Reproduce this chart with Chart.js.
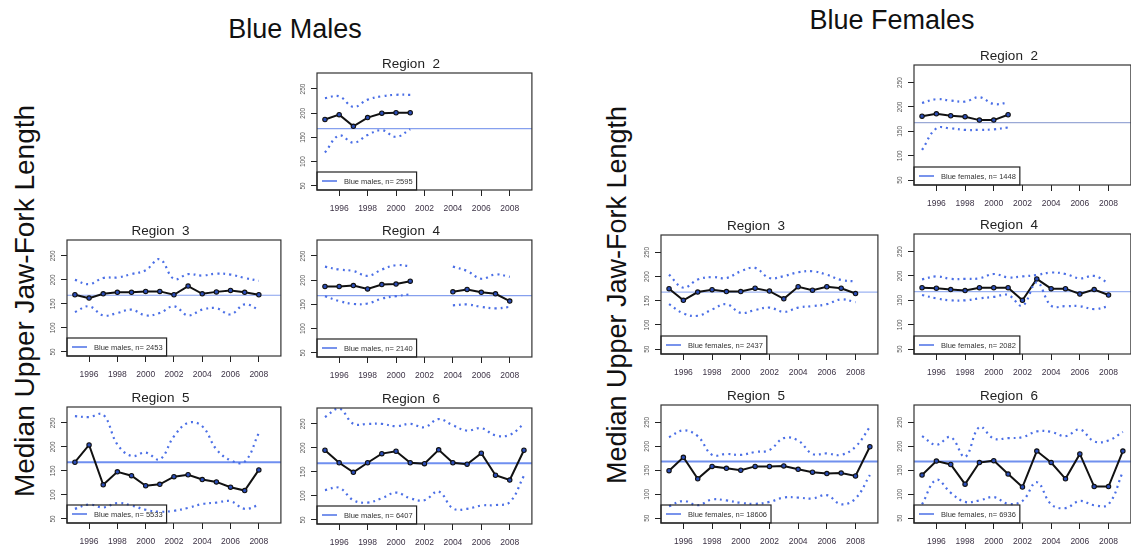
<!DOCTYPE html>
<html>
<head>
<meta charset="utf-8">
<title>Blue Males / Blue Females</title>
<script src="https://cdn.jsdelivr.net/npm/chart.js@4.4.1/dist/chart.umd.min.js"></script>
<style>
  body { margin: 0; background: #fff; width: 1131px; height: 545px; overflow: hidden; position: relative;
         font-family: "Liberation Sans", Arial, sans-serif; }
  .big { position: absolute; font-size: 27px; line-height: 1; color: #111; white-space: nowrap; transform: translateX(-50%); }
  .ylab { position: absolute; white-space: nowrap; line-height: 1; color: #111; transform: translate(-50%, -50%) rotate(-90deg); }
  .panel { position: absolute; }
</style>
</head>
<body>
<div class="big" style="left:295px; top:16px;">Blue Males</div>
<div class="big" style="left:892px; top:7px;">Blue Females</div>
<div class="ylab" style="left:25px; top:301px; font-size:28px;">Median Upper Jaw-Fork Length</div>
<div class="ylab" style="left:617px; top:295px; font-size:27px;">Median Upper Jaw-Fork Length</div>

<script>
// years on the x axis, one value per year from 1995
const years = [1995, 1996, 1997, 1998, 1999, 2000, 2001, 2002, 2003, 2004, 2005, 2006, 2007, 2008, 2009];
const xTicks = [1996, 1998, 2000, 2002, 2004, 2006, 2008];
const yTicks = [50, 100, 150, 200, 250];
const refLength = 168; // overall median, drawn as the horizontal line

// Blue males
const m2Median = [187, 197, 173, 191, 200, 201, 201];
const m2Upper  = [231, 235, 213, 228, 235, 238, 238];
const m2Lower  = [119, 154, 139, 155, 165, 151, 167];

const m3Median = [169, 162, 171, 174, 174, 176, 176, 169, 187, 171, 175, 178, 174, 169];
const m3Upper  = [200, 191, 204, 205, 212, 220, 243, 202, 212, 209, 213, 211, 204, 198];
const m3Lower  = [133, 145, 126, 131, 138, 126, 131, 145, 126, 138, 141, 128, 149, 138];

const m4Median = [187, 187, 189, 182, 191, 192, 198, null, null, 176, 181, 175, 172, 157];
const m4Upper  = [228, 222, 219, 209, 222, 231, 229, null, null, 228, 219, 203, 212, 207];
const m4Lower  = [167, 157, 151, 152, 162, 167, 171, null, null, 148, 150, 145, 142, 145];

const m5Median = [168, 204, 121, 148, 140, 119, 122, 138, 142, 132, 127, 116, 109, 152];
const m5Upper  = [264, 262, 267, 205, 181, 188, 174, 222, 250, 243, 195, 172, 169, 229];
const m5Lower  = [71, 80, 74, 83, 78, 69, 65, 67, 73, 81, 84, 87, 71, 79];

const m6Median = [195, 169, 149, 169, 188, 193, 169, 167, 196, 169, 166, 189, 143, 133, 195];
const m6Upper  = [264, 282, 250, 250, 250, 245, 250, 243, 260, 247, 236, 241, 226, 227, 250];
const m6Lower  = [112, 117, 91, 86, 95, 107, 95, 91, 109, 74, 73, 80, 81, 87, 142];

// Blue females
const f2Median = [181, 186, 182, 180, 173, 173, 184];
const f2Upper  = [208, 216, 213, 211, 220, 206, 209];
const f2Lower  = [112, 156, 156, 153, 153, 154, 158];

const f3Median = [175, 151, 168, 173, 169, 169, 176, 170, 154, 179, 172, 179, 176, 165];
const f3Upper  = [204, 177, 194, 199, 197, 211, 218, 197, 201, 209, 211, 204, 193, 190];
const f3Lower  = [143, 124, 119, 132, 143, 125, 131, 136, 127, 136, 139, 143, 153, 147];

const f4Median = [176, 175, 172, 170, 176, 176, 176, 150, 194, 174, 174, 163, 172, 161];
const f4Upper  = [193, 199, 194, 194, 195, 204, 197, 199, 202, 207, 204, 195, 200, 185];
const f4Lower  = [161, 154, 150, 150, 154, 157, 161, 139, 187, 139, 138, 138, 132, 138];

const f5Median = [149, 177, 132, 158, 154, 150, 158, 158, 159, 152, 146, 143, 144, 138, 199];
const f5Upper  = [219, 233, 221, 182, 184, 182, 188, 192, 217, 212, 184, 185, 182, 199, 240];
const f5Lower  = [75, 86, 77, 89, 87, 82, 80, 84, 93, 93, 91, 98, 79, 91, 140];

const f6Median = [140, 169, 162, 121, 166, 170, 142, 115, 190, 166, 132, 184, 116, 116, 190];
const f6Upper  = [221, 203, 219, 178, 240, 216, 217, 219, 231, 230, 221, 235, 210, 212, 230];
const f6Lower  = [79, 130, 103, 84, 87, 94, 80, 86, 125, 79, 71, 86, 77, 79, 147];

const FONT = '"Liberation Sans", Arial, sans-serif';
const DASH_BLUE = '#4b6fe6';
const PAD_L = 30, PAD_R = 2, PAD_T = 17, PAD_B = 32;

Chart.defaults.font.family = FONT;

// pair each value with its year
function toXY(values) {
  return values.map((v, i) => ({ x: years[i], y: v }));
}

// box, y labels, reference line and legend, R style
const panelDecor = {
  id: 'panelDecor',
  beforeDatasetsDraw(chart, args, opts) {
    const { ctx, chartArea: a, scales: { y } } = chart;
    const py = y.getPixelForValue(refLength);
    ctx.save();
    ctx.strokeStyle = opts.refColor;
    ctx.lineWidth = opts.refWidth;
    ctx.beginPath();
    ctx.moveTo(a.left, py);
    ctx.lineTo(a.right, py);
    ctx.stroke();
    ctx.restore();
  },
  afterDatasetsDraw(chart, args, opts) {
    const { ctx, chartArea: a, scales: { y } } = chart;
    ctx.save();
    // plot box
    ctx.strokeStyle = '#333';
    ctx.lineWidth = 1.2;
    ctx.strokeRect(a.left, a.top, a.right - a.left, a.bottom - a.top);

    // rotated y tick labels
    ctx.fillStyle = '#555';
    ctx.font = '6.5px ' + FONT;
    ctx.textAlign = 'center';
    ctx.textBaseline = 'middle';
    yTicks.forEach(v => {
      ctx.save();
      ctx.translate(a.left - 14, y.getPixelForValue(v));
      ctx.rotate(-Math.PI / 2);
      ctx.fillText(String(v), 0, 0);
      ctx.restore();
    });

    // legend in the lower left corner
    ctx.font = '7.5px ' + FONT;
    const tw = ctx.measureText(opts.legend).width;
    const lw = 27 + tw + 4, lh = 18;
    const ly = a.bottom - lh;
    ctx.strokeStyle = '#222';
    ctx.lineWidth = 1.2;
    ctx.strokeRect(a.left, ly, lw, lh);
    ctx.strokeStyle = DASH_BLUE;
    ctx.lineWidth = 1.5;
    ctx.beginPath();
    ctx.moveTo(a.left + 5, ly + lh / 2);
    ctx.lineTo(a.left + 20, ly + lh / 2);
    ctx.stroke();
    ctx.fillStyle = '#333';
    ctx.textAlign = 'left';
    ctx.fillText(opts.legend, a.left + 27, ly + lh / 2 + 0.5);
    ctx.restore();
  }
};

function makePanel(p) {
  const [L, T, R, B] = p.box;
  const W = R - L + PAD_L + PAD_R;
  const H = B - T + PAD_T + PAD_B;
  const wrap = document.createElement('div');
  wrap.className = 'panel';
  wrap.style.left = (L - PAD_L) + 'px';
  wrap.style.top = (T - PAD_T) + 'px';
  wrap.style.width = W + 'px';
  wrap.style.height = H + 'px';
  const cv = document.createElement('canvas');
  cv.width = W;
  cv.height = H;
  wrap.appendChild(cv);
  document.body.appendChild(wrap);

  const chart = new Chart(cv, {
    type: 'line',
    data: {
      datasets: [
        { data: toXY(p.upper), borderColor: DASH_BLUE, borderWidth: 2.2, borderDash: [2, 4],
          pointRadius: 0, tension: 0.4, fill: false },
        { data: toXY(p.lower), borderColor: DASH_BLUE, borderWidth: 2.2, borderDash: [2, 4],
          pointRadius: 0, tension: 0.4, fill: false },
        { data: toXY(p.median), borderColor: '#111', borderWidth: 2, tension: 0, fill: false,
          pointRadius: 2.2, pointBackgroundColor: '#2a4db8', pointBorderColor: '#111', pointBorderWidth: 1.1 }
      ]
    },
    options: {
      responsive: false,
      animation: false,
      events: [],
      layout: { padding: { left: 0, right: PAD_R, top: 0, bottom: 0 } },
      scales: {
        x: {
          type: 'linear', min: 1994.44, max: 2009.56,
          afterBuildTicks: s => { s.ticks = xTicks.map(v => ({ value: v })); },
          afterFit: s => { s.height = PAD_B; },
          grid: { display: true, drawOnChartArea: false, drawTicks: true, tickLength: 6, color: '#222' },
          border: { display: false },
          ticks: { color: '#3d3346', font: { size: 8.5 }, padding: 8, maxRotation: 0, autoSkip: false,
                   callback: v => String(v) }
        },
        y: {
          type: 'linear', min: p.yMin, max: p.yMax,
          afterBuildTicks: s => { s.ticks = yTicks.map(v => ({ value: v })); },
          afterFit: s => { s.width = PAD_L; },
          grid: { display: true, drawOnChartArea: false, drawTicks: true, tickLength: 6, color: '#222' },
          border: { display: false },
          ticks: { display: false }
        }
      },
      plugins: {
        legend: { display: false },
        tooltip: { enabled: false },
        title: { display: true, text: p.title, color: '#222', font: { size: 13.5, weight: 'normal' },
                 padding: { top: 0, bottom: 0.8 } },
        panelDecor: { legend: p.legend, refColor: p.refColor, refWidth: p.refWidth }
      }
    },
    plugins: [panelDecor]
  });

  // line the plot area up with the target box
  const a = chart.chartArea;
  wrap.style.left = (L - a.left) + 'px';
  wrap.style.top = (T - a.top) + 'px';
}

const panels = [
  { title: 'Region  2', box: [317, 73, 535, 190], yMin: 41.5, yMax: 283, median: m2Median, upper: m2Upper, lower: m2Lower,
    legend: 'Blue males, n= 2595', refColor: '#86a0ee', refWidth: 1.2 },
  { title: 'Region  3', box: [67, 240, 284, 356], yMin: 41.5, yMax: 283, median: m3Median, upper: m3Upper, lower: m3Lower,
    legend: 'Blue males, n= 2453', refColor: '#86a0ee', refWidth: 1.2 },
  { title: 'Region  4', box: [317, 240, 535, 357], yMin: 41.5, yMax: 283, median: m4Median, upper: m4Upper, lower: m4Lower,
    legend: 'Blue males, n= 2140', refColor: '#86a0ee', refWidth: 1.2 },
  { title: 'Region  5', box: [67, 407, 284, 523], yMin: 41.5, yMax: 283, median: m5Median, upper: m5Upper, lower: m5Lower,
    legend: 'Blue males, n= 5533', refColor: '#6f8ff0', refWidth: 2 },
  { title: 'Region  6', box: [317, 408, 535, 524], yMin: 41.5, yMax: 283, median: m6Median, upper: m6Upper, lower: m6Lower,
    legend: 'Blue males, n= 6407', refColor: '#6f8ff0', refWidth: 2 },
  { title: 'Region  2', box: [914, 65, 1134, 185], yMin: 40, yMax: 286, median: f2Median, upper: f2Upper, lower: f2Lower,
    legend: 'Blue females, n= 1448', refColor: '#9aa9d6', refWidth: 1.2 },
  { title: 'Region  3', box: [661, 235, 881, 354], yMin: 40, yMax: 286, median: f3Median, upper: f3Upper, lower: f3Lower,
    legend: 'Blue females, n= 2437', refColor: '#9db3f2', refWidth: 1.2 },
  { title: 'Region  4', box: [914, 234, 1134, 354], yMin: 40, yMax: 286, median: f4Median, upper: f4Upper, lower: f4Lower,
    legend: 'Blue females, n= 2082', refColor: '#9db3f2', refWidth: 1.2 },
  { title: 'Region  5', box: [661, 405, 881, 523], yMin: 40, yMax: 286, median: f5Median, upper: f5Upper, lower: f5Lower,
    legend: 'Blue females, n= 18606', refColor: '#7090ee', refWidth: 2 },
  { title: 'Region  6', box: [914, 405, 1134, 523], yMin: 40, yMax: 286, median: f6Median, upper: f6Upper, lower: f6Lower,
    legend: 'Blue females, n= 6936', refColor: '#7090ee', refWidth: 2 }
];

panels.forEach(makePanel);
</script>
</body>
</html>
